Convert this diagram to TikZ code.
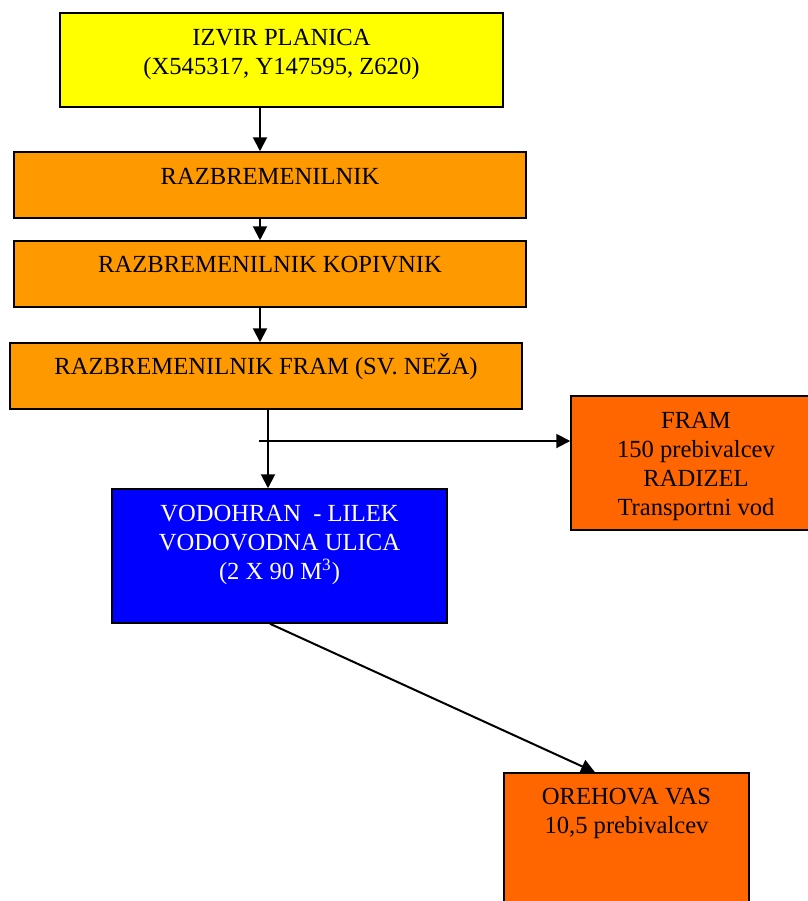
\documentclass[tikz,border=0pt]{standalone}
\usepackage{fontspec}
\setmainfont{Liberation Serif}
\usetikzlibrary{calc, arrows.meta}

\definecolor{izvircol}{HTML}{FFFF00}
\definecolor{razbcol}{HTML}{FF9900}
\definecolor{vascol}{HTML}{FF6600}
\definecolor{vodocol}{HTML}{0000FF}

\begin{document}
\begin{tikzpicture}[x=0.5pt, y=-0.5pt,
		box/.style={draw, line width=0.75pt, inner sep=0pt},
		txt/.style={align=center, inner sep=0pt, anchor=base, font=\fontsize{12.3}{14.5}\selectfont},
		arr/.style={line width=1pt, -{Triangle[length=7pt, width=7pt]}}]

		\path[use as bounding box] (0,0) rectangle (808,901);
		\clip (0,0) rectangle (808,901);

		% boxes
		\node [box, fill=izvircol, minimum width=221.5pt, minimum height=47pt] (izvir) at (281.5,60) {};
		\node [box, fill=razbcol, minimum width=256pt, minimum height=33pt] (razb) at (270,185) {};
		\node [box, fill=razbcol, minimum width=256pt, minimum height=33pt] (kopivnik) at (270,274) {};
		\node [box, fill=razbcol, minimum width=256pt, minimum height=33pt] (fram) at (266,376) {};
		\node [box, fill=vascol, minimum width=125pt, minimum height=67pt] (framvas) at (696,463) {};
		\node [box, fill=vodocol, minimum width=167.5pt, minimum height=67pt] (vodohran) at (279.5,556) {};
		\node [box, fill=vascol, minimum width=122.5pt, minimum height=75pt] (orehova) at (626.5,848) {};

		% texts (base = last line)
		\node [txt] at ([yshift=-31pt]izvir.north) {IZVIR PLANICA\\(X545317, Y147595, Z620)};
		\node [txt] at ([yshift=-16.5pt]razb.north) {RAZBREMENILNIK};
		\node [txt] at ([yshift=-16pt]kopivnik.north) {RAZBREMENILNIK KOPIVNIK};
		\node [txt] at ([yshift=-16pt]fram.north) {RAZBREMENILNIK FRAM (SV. NEŽA)};
		\node [txt] at ([yshift=-60pt]framvas.north) {FRAM\\150 prebivalcev\\RADIZEL\\Transportni vod};
		\node [txt, text=white] at ([yshift=-45.5pt]vodohran.north) {VODOHRAN \ - LILEK\\VODOVODNA ULICA\\(2 X 90 M\textsuperscript{3})};
		\node [txt] at ([yshift=-30.5pt]orehova.north) {OREHOVA VAS\\10,5 prebivalcev};

		% connectors
		\coordinate (trunk) at (260,0);
		\coordinate (drop) at (268,0);
		\coordinate (branch) at (259,441);

		\draw [arr] (izvir.south -| trunk) -- (razb.north -| trunk);
		\draw [arr] (razb.south -| trunk) -- (kopivnik.north -| trunk);
		\draw [arr] (kopivnik.south -| trunk) -- (fram.north -| trunk);
		\draw [arr] (fram.south -| drop) -- (vodohran.north -| drop);
		\draw [arr] (branch) -- (branch -| framvas.west);
		\draw [arr] ($(vodohran.south)+(-9.5,0)$) -- ($(orehova.north)+(-31.5,0)$);
	\end{tikzpicture}
\end{document}
